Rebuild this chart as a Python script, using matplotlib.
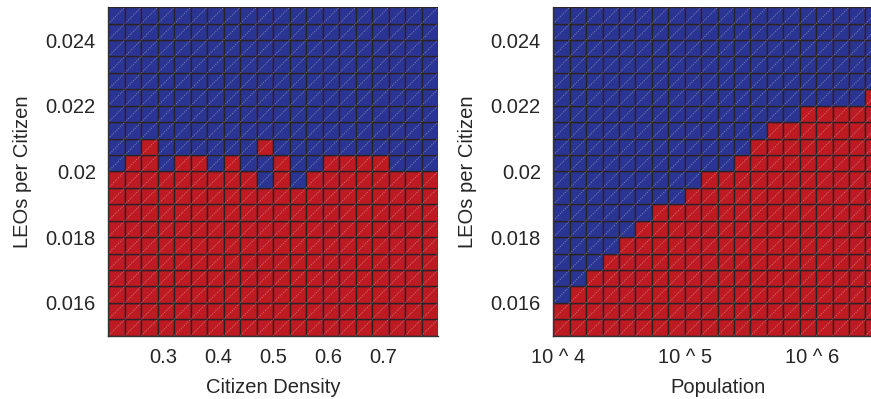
#!/usr/bin/env python3
"""
LEO staffing outcome maps: citizen density and population vs LEOs per citizen
"""

import numpy as np
import matplotlib.pyplot as plt
from matplotlib.colors import ListedColormap
from matplotlib.collections import LineCollection

plt.rcParams['font.family'] = ['Liberation Sans', 'DejaVu Sans']

# Data
leo_edges = np.linspace(0.015, 0.025, 21)          # LEOs per citizen (row edges)
density_edges = np.linspace(0.2, 0.8, 21)          # citizen density (column edges)
pop_edges = np.linspace(3.963, 6.551, 21)          # log10 population (column edges)

# left panel: rows below are all red, rows above the band are all blue
density_full_red_rows = 9
density_band = [
    'RRRRRRRRRBRBRRRRRRRR',   # 0.0195 - 0.0200
    'BRRBRRBRBBRBBRRRRBBB',   # 0.0200 - 0.0205
    'BBRBBBBBBRBBBBBBBBBB',   # 0.0205 - 0.0210
]

# right panel: number of red rows counted from the bottom, per column
pop_red_rows = [2, 3, 4, 5, 6, 7, 8, 8, 9, 10, 10, 11, 12, 13, 13, 14, 14, 14, 14, 15]

pop_ticks = [4, 5, 6]
pop_ticklabels = ['10 ^ 4', '10 ^ 5', '10 ^ 6']
leo_ticks = [0.016, 0.018, 0.02, 0.022, 0.024]
leo_ticklabels = ['0.016', '0.018', '0.02', '0.022', '0.024']
density_ticks = [0.3, 0.4, 0.5, 0.6, 0.7]

BLUE = '#2a3593'
RED = '#be1a22'
EDGE = '#2a2226'
cmap = ListedColormap([BLUE, RED])


def density_grid():
    nrow, ncol = len(leo_edges) - 1, len(density_edges) - 1
    grid = np.zeros((nrow, ncol))
    grid[:density_full_red_rows, :] = 1
    for k, row in enumerate(density_band):
        grid[density_full_red_rows + k, :] = [1 if c == 'R' else 0 for c in row]
    return grid


def population_grid():
    nrow, ncol = len(leo_edges) - 1, len(pop_edges) - 1
    grid = np.zeros((nrow, ncol))
    for j, n in enumerate(pop_red_rows):
        grid[:n, j] = 1
    return grid


def draw_mesh(ax, xedges, yedges, grid):
    """Faceted mesh with light diagonals, like a triangulated surface seen from above"""
    ax.pcolormesh(xedges, yedges, grid, cmap=cmap, vmin=0, vmax=1,
                  edgecolors=EDGE, linewidth=1.0, antialiased=True)
    X, Y = np.meshgrid(xedges, yedges)
    segs = []
    for i in range(len(yedges) - 1):
        for j in range(len(xedges) - 1):
            segs.append([(X[i, j], Y[i, j]), (X[i + 1, j + 1], Y[i + 1, j + 1])])
    lc = LineCollection(segs, colors='white', alpha=0.35, linewidths=0.7,
                        linestyles=(0, (1.2, 1.2)))
    ax.add_collection(lc)
    ax.set_xlim(xedges[0], xedges[-1])
    ax.set_ylim(yedges[0], yedges[-1])
    for side in ['top', 'right']:
        ax.spines[side].set_visible(False)
    for side in ['left', 'bottom']:
        ax.spines[side].set_color('#333333')
        ax.spines[side].set_linewidth(1.0)
    ax.tick_params(length=0, labelsize=14.5, pad=9, colors='#262626')
    ax.set_yticks(leo_ticks)
    ax.set_yticklabels(leo_ticklabels)
    ax.set_ylabel('LEOs per Citizen', fontsize=14.5, color='#262626', labelpad=10)


fig = plt.figure(figsize=(8.71, 3.99), dpi=100, facecolor='white')
W, H = 871, 399
ax1 = fig.add_axes([108.3 / W, (H - 335.7) / H, 329.7 / W, 328.5 / H])
ax2 = fig.add_axes([553.3 / W, (H - 335.7) / H, 328.6 / W, 328.5 / H])

draw_mesh(ax1, density_edges, leo_edges, density_grid())
ax1.set_xticks(density_ticks)
ax1.set_xticklabels(['0.3', '0.4', '0.5', '0.6', '0.7'])
ax1.set_xlabel('Citizen Density', fontsize=14.5, color='#262626', labelpad=8)

draw_mesh(ax2, pop_edges, leo_edges, population_grid())
ax2.set_xticks(pop_ticks)
ax2.set_xticklabels(pop_ticklabels)
ax2.set_xlabel('Population', fontsize=14.5, color='#262626', labelpad=8)

fig.savefig('out.png', dpi=100, facecolor='white')
